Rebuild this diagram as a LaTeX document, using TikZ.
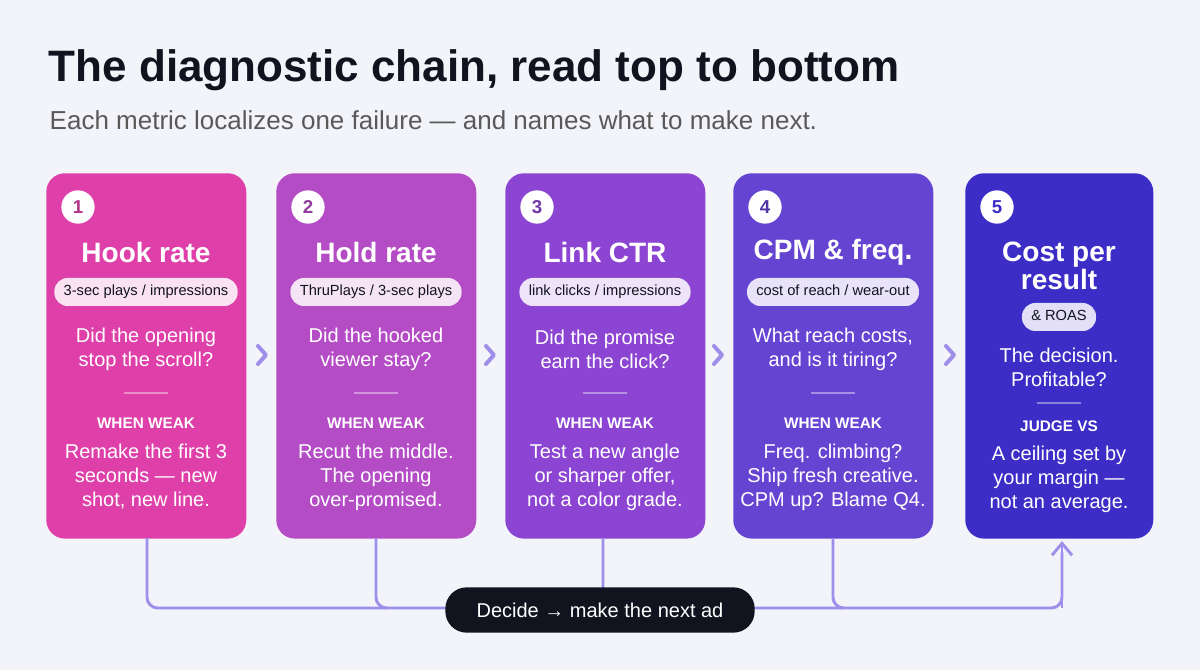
\documentclass[tikz,border=0pt]{standalone}
\usepackage{fontspec}
\setmainfont{Liberation Sans}
\usetikzlibrary{positioning,calc,arrows.meta}
\definecolor{bgc}{HTML}{F3F4FA}
\definecolor{linkc}{HTML}{9D8FEA}
\definecolor{cA}{HTML}{DE3FA9}
\definecolor{cB}{HTML}{B44CC6}
\definecolor{cC}{HTML}{8C45D2}
\definecolor{cD}{HTML}{6544D2}
\definecolor{cE}{HTML}{3B2DC6}
\definecolor{inkc}{HTML}{11131F}
\tikzset{
  card/.style={rounded corners=14pt, minimum width=150pt, minimum height=274pt, anchor=north west, inner sep=0pt},
  num/.style={circle, fill=white, minimum size=25pt, inner sep=0pt, font=\fontsize{14}{14}\selectfont\bfseries},
  ttl/.style={text=white, font=\fontsize{21}{22}\selectfont\bfseries, align=center},
  pill/.style={rounded corners=10pt, fill=white!85!#1, text=inkc, font=\fontsize{11}{11}\selectfont, inner xsep=7pt, text height=8pt, text depth=2.5pt, minimum height=21pt},
  qtxt/.style={text=white, font=\fontsize{15}{18}\selectfont, align=center},
  weak/.style={text=white, font=\fontsize{11.5}{12}\selectfont\bfseries},
  sep/.style={draw=white!40!#1, line width=1pt},
  chev/.style={draw=linkc, line width=3pt, line cap=round, line join=round},
  link/.style={draw=linkc, line width=2.2pt, rounded corners=8pt}
}
\begin{document}
\begin{tikzpicture}[x=0.75pt,y=-0.75pt]
\fill[bgc] (0,0) rectangle (1200,670);
\useasboundingbox (0,0) rectangle (1200,670);
% heading
\node[anchor=west, text=inkc, font=\fontsize{33}{36}\selectfont\bfseries] (head) at (44,70) {The diagnostic chain, read top to bottom};
\node[anchor=west, text=black!65, font=\fontsize{19.5}{22}\selectfont] (sub) at (45,120) {Each metric localizes one failure — and names what to make next.};
% cards 1-4
\foreach \i/\x/\c/\t/\m/\q/\w in {
  1/46/cA/{Hook rate}/{3-sec plays / impressions}/{Did the opening\\stop the scroll?}/{Remake the first 3\\seconds — new\\shot, new line.},
  2/276/cB/{Hold rate}/{ThruPlays / 3-sec plays}/{Did the hooked\\viewer stay?}/{Recut the middle.\\The opening\\over-promised.},
  3/505/cC/{Link CTR}/{link clicks / impressions}/{Did the promise\\earn the click?}/{Test a new angle\\or sharper offer,\\not a color grade.},
  4/733/cD/{CPM \& freq.}/{cost of reach / wear-out}/{What reach costs,\\and is it tiring?}/{Freq. climbing?\\Ship fresh creative.\\CPM up? Blame Q4.}}{
  \node[card, fill=\c] (card\i) at (\x,173) {};
  \node[num, text=\c!80!black] (num\i) at (\x+32,207) {\i};
  \node[ttl] (ttl\i) at (\x+100,252) {\t};
  \node[pill=\c] (pill\i) at (\x+100,292) {\m};
  \node[qtxt] (q\i) at (\x+100,349) {\q};
  \draw[sep=\c] (\x+78,393) -- (\x+122,393);
  \node[weak] (weak\i) at (\x+100,423) {WHEN WEAK};
  \node[qtxt] (w\i) at (\x+100,477) {\w};
}
% card 5
\node[card, fill=cE, minimum width=141pt] (card5) at (965,173) {};
\node[num, text=cE] (num5) at (997,207) {5};
\node[ttl, font=\fontsize{21}{21.5}\selectfont\bfseries] (ttl5) at (1059,266) {Cost per\\result};
\node[pill=cE] (pill5) at (1059,317) {\& ROAS};
\node[qtxt] (q5) at (1059,367) {The decision.\\Profitable?};
\draw[sep=cE] (1037,403) -- (1081,403);
\node[weak] (weak5) at (1059,426) {JUDGE VS};
\node[qtxt] (w5) at (1059,479) {A ceiling set by\\your margin —\\not an average.};
% chevrons between cards
\foreach \x in {262,490,718,950}
  \draw[chev] (\x-4,346) -- (\x+4,355) -- (\x-4,364);
% loop back
\coordinate (br) at (1062,608);
\draw[link] (147,538) |- (br) -- (1062,552);
\draw[link, -{Straight Barb[length=9pt,width=15pt,line width=2.2pt]}] (br) -- (1062,541);
\foreach \x in {376,603,833}
  \draw[link] (\x,538) |- (\x+8,608);
\node[fill=inkc, text=white, rounded corners=16pt, minimum width=232pt, minimum height=34pt, font=\fontsize{15}{16}\selectfont] (decide) at (600,610) {Decide → make the next ad};
\end{tikzpicture}
\end{document}
